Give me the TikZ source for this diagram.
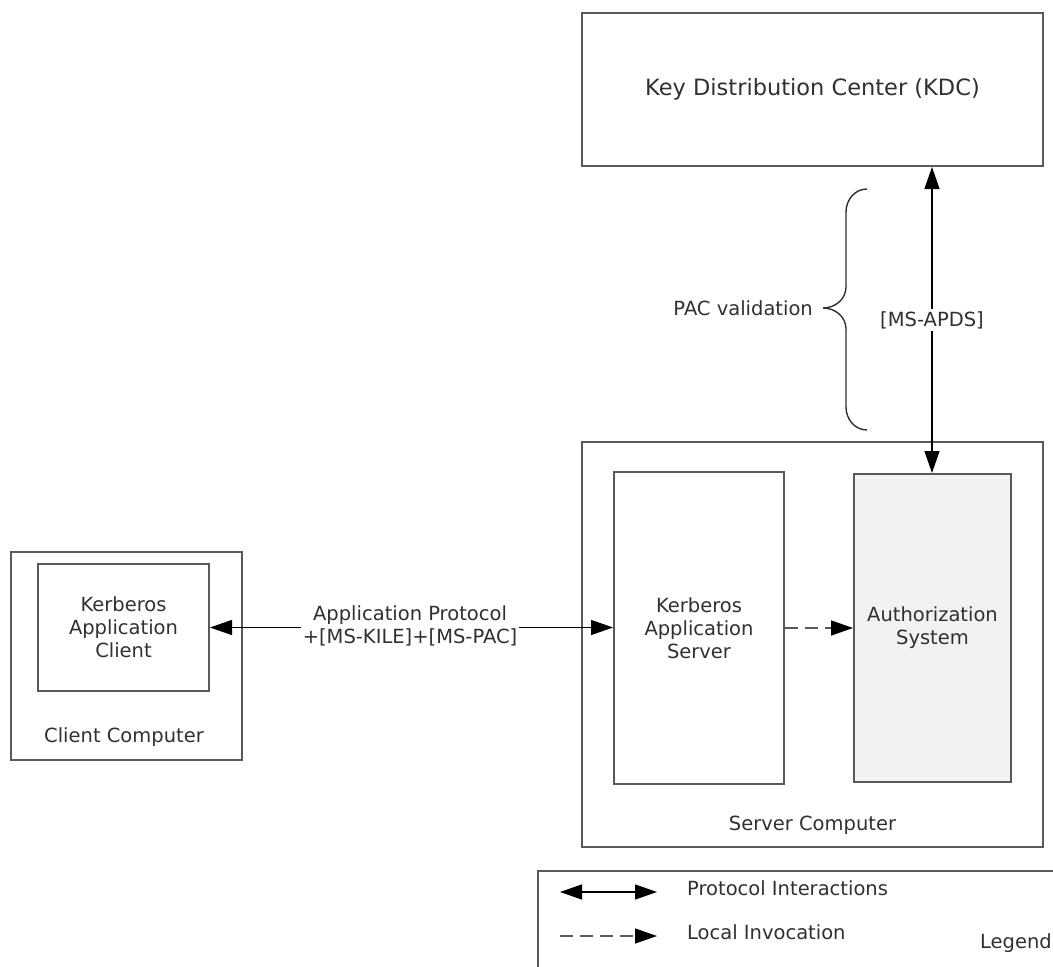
\documentclass[tikz,border=0pt]{standalone}
\usepackage{fontspec}
\setmainfont{DejaVu Sans}
\usetikzlibrary{arrows.meta}
\definecolor{boxline}{HTML}{595959}
\definecolor{txt}{HTML}{303030}
\definecolor{authfill}{HTML}{F2F2F2}
\begin{document}
\begin{tikzpicture}[x=1pt,y=-1pt,
  box/.style={draw=boxline, line width=2pt, inner sep=0pt},
  lbl/.style={text=txt, font=\fontsize{19.5}{23}\selectfont, align=center, inner sep=1pt},
  tip/.tip={Triangle[length=22pt,width=15pt]},
  btip/.tip={Triangle[length=22pt,width=15pt,color=black]},
  proto/.style={line width=1.4pt, tip-tip},
  local/.style={line width=1.4pt, draw=boxline, dash pattern=on 13pt off 7pt, -btip},
]
\useasboundingbox (0,0) rectangle (1053,967);

% KDC
\node[box, lbl, font=\fontsize{22.5}{26}\selectfont, minimum width=461pt, minimum height=153pt] (kdc) at (812.5,89.5) {Key Distribution Center (KDC)};

% Server computer
\node[box, minimum width=461pt, minimum height=405pt] (srv) at (812.5,644.5) {};
\node[lbl] (srvlbl) at (812.5,825) {Server Computer};
\node[box, lbl, minimum width=170pt, minimum height=312pt] (appsrv) at (699,628) {Kerberos\\Application\\Server};
\node[box, lbl, fill=authfill, minimum width=157pt, minimum height=308pt] (auth) at (932.5,628) {Authorization\\System};

% Client computer
\node[box, minimum width=231pt, minimum height=208pt] (cli) at (126.5,656) {};
\node[lbl] (clilbl) at (124,737) {Client Computer};
\node[box, lbl, minimum width=171pt, minimum height=127pt] (appcli) at (123.5,627.5) {Kerberos\\Application\\Client};

% Connectors
\draw[proto] (appcli.east) -- (appsrv.west |- appcli.east);
\node[lbl, fill=white, inner sep=2pt] (aplbl) at (410,626) {Application Protocol\\+[MS-KILE]+[MS-PAC]};
\draw[proto] (auth.north -| 932,0) -- (kdc.south -| 932,0);
\node[lbl, fill=white, inner sep=2pt] (apds) at (932,320) {[MS-APDS]};
\draw[local] (appsrv.east) -- (auth.west);

% Brace
\draw[line width=1.4pt, draw=txt] (867,189) to[out=180,in=90] (846,212) -- (846,287) to[out=-90,in=0] (823,308) to[out=0,in=90] (846,329) -- (846,407) to[out=-90,in=180] (867,430);
\node[lbl, anchor=east] (pac) at (814,308) {PAC validation};

% Legend
\begin{scope}
\clip (0,0) rectangle (1053,967);
\node[box, minimum width=540pt, minimum height=130pt, anchor=north west] (leg) at (537,870) {};
\end{scope}
\coordinate (l1a) at (560,892);
\coordinate (l1b) at (657,892);
\coordinate (l2a) at (560,936);
\coordinate (l2b) at (657,936);
\draw[proto] (l1a) -- (l1b);
\draw[local] (l2a) -- (l2b);
\node[lbl, anchor=west] (legp) at (686,888) {Protocol Interactions};
\node[lbl, anchor=west] (legl) at (686,932) {Local Invocation};
\node[lbl, anchor=east] (legt) at (1053,943) {Legend};
\end{tikzpicture}
\end{document}
